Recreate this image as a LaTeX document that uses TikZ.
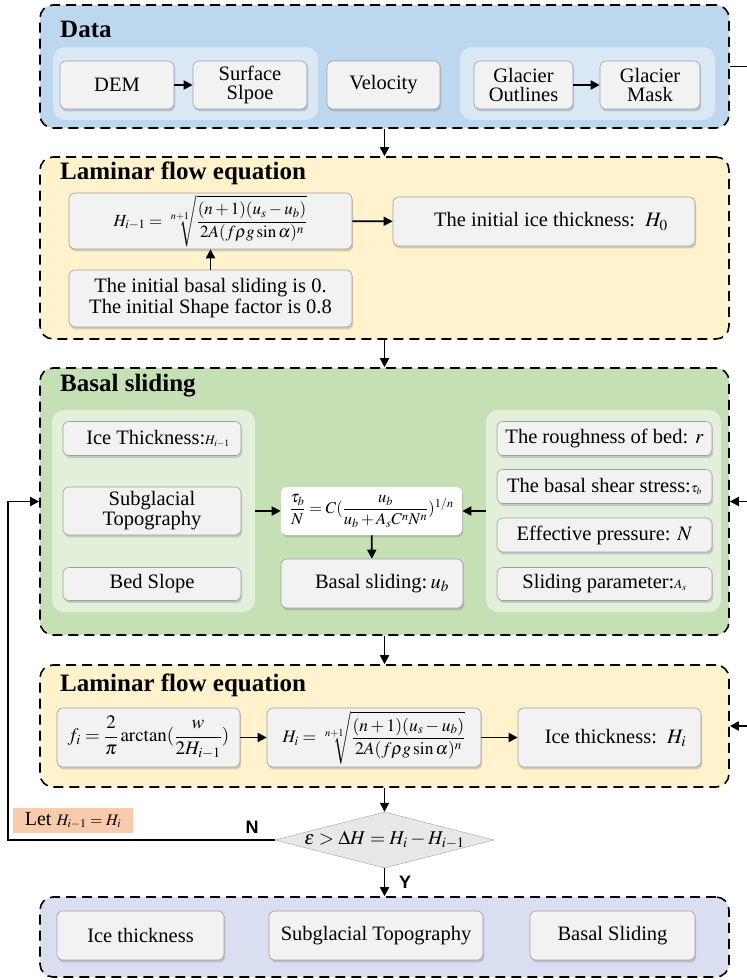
\documentclass[tikz,border=0pt]{standalone}
\usepackage{amsmath}
\usepackage{mathptmx}
\usepackage{fontspec}
\setmainfont{Liberation Serif}
\newfontfamily\labelfont{Liberation Sans}
\usetikzlibrary{arrows.meta,shapes.geometric,shadows}
\definecolor{datafill}{RGB}{189,215,238}
\definecolor{datagroup}{RGB}{218,232,245}
\definecolor{lamfill}{RGB}{255,242,204}
\definecolor{basalfill}{RGB}{197,224,180}
\definecolor{basalgroup}{RGB}{226,240,217}
\definecolor{outfill}{RGB}{217,222,240}
\definecolor{itemfill}{RGB}{242,242,242}
\definecolor{itemline}{RGB}{160,160,160}
\definecolor{letfill}{RGB}{248,203,173}
\definecolor{decfill}{RGB}{232,232,232}
\newcommand{\minimath}[1]{{\fontsize{13}{13}\selectfont$#1$}}
\newcommand{\midmath}[1]{{\fontsize{16}{16}\selectfont$#1$}}

\begin{document}
\begin{tikzpicture}[x=1pt, y=-1pt,
	panel/.style={draw=black, line width=1.6pt, dash pattern=on 10pt off 6pt, rounded corners=13pt, inner sep=0pt},
	pgroup/.style={fill=#1, rounded corners=12pt, inner sep=0pt},
	item/.style={draw=itemline, fill=itemfill, rounded corners=6pt, line width=0.6pt, inner sep=1pt, align=center,
		drop shadow={shadow xshift=1.2pt, shadow yshift=-2.4pt, opacity=0.35},
		font=\fontsize{20.5}{23}\selectfont},
	heading/.style={anchor=west, inner sep=0pt, font=\fontsize{25}{28}\selectfont\bfseries},
	flow/.style={-{Triangle[length=9pt,width=9pt]}, line width=1.8pt},
	yesno/.style={font=\labelfont\bfseries\fontsize{18}{20}\selectfont}]
	\useasboundingbox (0,0) rectangle (747,980);

	% data
	\node[panel, fill=datafill, minimum width=689, minimum height=123] (data) at (384.5,66.5) {};
	\node[heading] (datatitle) at (60,29) {Data};
	\node[pgroup=datagroup, minimum width=265, minimum height=73] (gdem) at (185.5,83.5) {};
	\node[pgroup=datagroup, minimum width=255, minimum height=73] (gmask) at (587.5,83.5) {};
	\node[item, minimum width=114, minimum height=48] (dem) at (117,85) {DEM};
	\node[item, minimum width=114, minimum height=48] (slope) at (250,85) {Surface\\[-4pt]Slpoe};
	\node[item, minimum width=113, minimum height=48] (velo) at (383.5,85) {Velocity};
	\node[item, minimum width=99, minimum height=48] (outl) at (523.5,85) {Glacier\\[-4pt]Outlines};
	\node[item, minimum width=100, minimum height=48] (mask) at (650,85) {Glacier\\[-4pt]Mask};
	\draw[flow] (dem) -- (slope);
	\draw[flow] (outl) -- (mask);

	% laminar flow 1
	\node[panel, fill=lamfill, minimum width=689, minimum height=182] (lamA) at (384.5,248) {};
	\node[heading] (lamAtitle) at (60,173) {Laminar flow equation};
	\node[item, minimum width=283, minimum height=56, font=\fontsize{17}{20}\selectfont] (lawA) at (210.5,221)
		{$H_{i-1}=\sqrt[n+1]{\dfrac{(n+1)(u_s-u_b)}{2A(f\rho g\sin\alpha)^n}}$};
	\node[item, minimum width=302, minimum height=49] (hzero) at (544,221.5) {\hspace{14pt}The initial ice thickness:\ \ $H_0$};
	\node[item, minimum width=283, minimum height=57] (init) at (210.5,298.5)
		{The initial basal sliding is 0.\\[-2pt]The initial Shape factor is 0.8};
	\draw[flow] (lawA) -- (hzero);
	\draw[flow] (init) -- (lawA);

	% basal sliding
	\node[panel, fill=basalfill, minimum width=689, minimum height=267] (basal) at (384.5,501.5) {};
	\node[heading] (basaltitle) at (60,386) {Basal sliding};
	\node[pgroup=basalgroup, minimum width=203, minimum height=202] (gleft) at (153.5,511) {};
	\node[pgroup=basalgroup, minimum width=235, minimum height=202] (gright) at (603.5,511) {};
	\node[item, minimum width=178, minimum height=34] (thick) at (152,438.5) {\hspace{12pt}Ice Thickness:\minimath{H_{i-1}}};
	\node[item, minimum width=178, minimum height=48] (topo) at (152,511) {Subglacial\\[-3pt]Topography};
	\node[item, minimum width=178, minimum height=33] (bed) at (152,584) {Bed Slope};
	\node[item, minimum width=215, minimum height=34] (rough) at (604.5,438.5) {The roughness of bed: $r$};
	\node[item, minimum width=215, minimum height=34] (shear) at (604.5,486.5) {The basal shear stress:\minimath{\tau_b}};
	\node[item, minimum width=215, minimum height=34] (press) at (604.5,535) {Effective pressure: $N$};
	\node[item, minimum width=215, minimum height=33] (param) at (604.5,584) {Sliding parameter:\minimath{A_s}};
	\node[item, draw=none, fill=white, minimum width=181, minimum height=48, font=\fontsize{16.5}{19}\selectfont] (tau) at (371.5,511)
		{$\dfrac{\tau_b}{N}=C(\dfrac{u_b}{u_b+A_sC^nN^n})^{1/n}$};
	\node[item, minimum width=182, minimum height=49] (ub) at (372,583.5) {\hspace{20pt}Basal sliding:\,$u_b$};
	\draw[flow] (gleft) -- (tau);
	\draw[flow] (gright) -- (tau);
	\draw[flow] (tau) -- (ub);

	% laminar flow 2
	\node[panel, fill=lamfill, minimum width=689, minimum height=122] (lamB) at (384.5,726) {};
	\node[heading] (lamBtitle) at (60,685) {Laminar flow equation};
	\node[item, minimum width=183, minimum height=59, font=\fontsize{19}{22}\selectfont] (shape) at (148.5,737.5)
		{$f_i=\dfrac{2}{\pi}\arctan(\dfrac{w}{2H_{i-1}})$};
	\node[item, minimum width=214, minimum height=59, font=\fontsize{17.5}{20}\selectfont] (lawB) at (374,737.5)
		{$H_i=\sqrt[n+1]{\dfrac{(n+1)(u_s-u_b)}{2A(f\rho g\sin\alpha)^n}}$};
	\node[item, minimum width=183, minimum height=59] (hi) at (609.5,737.5) {\hspace{12pt}Ice thickness:\ \ $H_i$};
	\draw[flow] (shape) -- (lawB);
	\draw[flow] (lawB) -- (hi);

	% check
	\node[diamond, draw=itemline, fill=decfill, minimum width=219, minimum height=56, inner sep=0pt,
		font=\fontsize{19.5}{22}\selectfont] (dec) at (384.5,840) {\makebox[0pt]{$\varepsilon>\Delta H=H_i-H_{i-1}$}};
	\node[fill=letfill, minimum width=120, minimum height=25, inner sep=0pt, font=\fontsize{20}{22}\selectfont] (let) at (73,820.5)
		{Let \midmath{H_{i-1}=H_i}};
	\node[yesno] (no) at (252,827) {N};
	\node[yesno] (yes) at (405,882) {Y};

	% output
	\node[panel, fill=outfill, minimum width=689, minimum height=80] (out) at (384.5,937) {};
	\node[item, minimum width=167, minimum height=49] (outthick) at (140.5,935.5) {Ice thickness};
	\node[item, minimum width=214, minimum height=49] (outtopo) at (376,935.5) {Subglacial Topography};
	\node[item, minimum width=165, minimum height=49] (outslide) at (612.5,935.5) {Basal Sliding};

	% flow between panels
	\draw[flow] (data) -- (lamA);
	\draw[flow] (lamA) -- (basal);
	\draw[flow] (basal) -- (lamB);
	\draw[flow] (lamB) -- (dec);
	\draw[flow] (dec) -- (out);
	\coordinate (back) at (8,840);
	\draw[flow] (dec.west) -- (back) |- (basal.west);
	\coordinate (feedtop) at (747,66.5);
	\coordinate (feedbasal) at (747,501.5);
	\coordinate (feedlam) at (747,726);
	\draw[line width=1.8pt] (data.east) -- (feedtop);
	\draw[flow] (feedbasal) -- (basal.east);
	\draw[flow] (feedlam) -- (lamB.east);
\end{tikzpicture}
\end{document}
